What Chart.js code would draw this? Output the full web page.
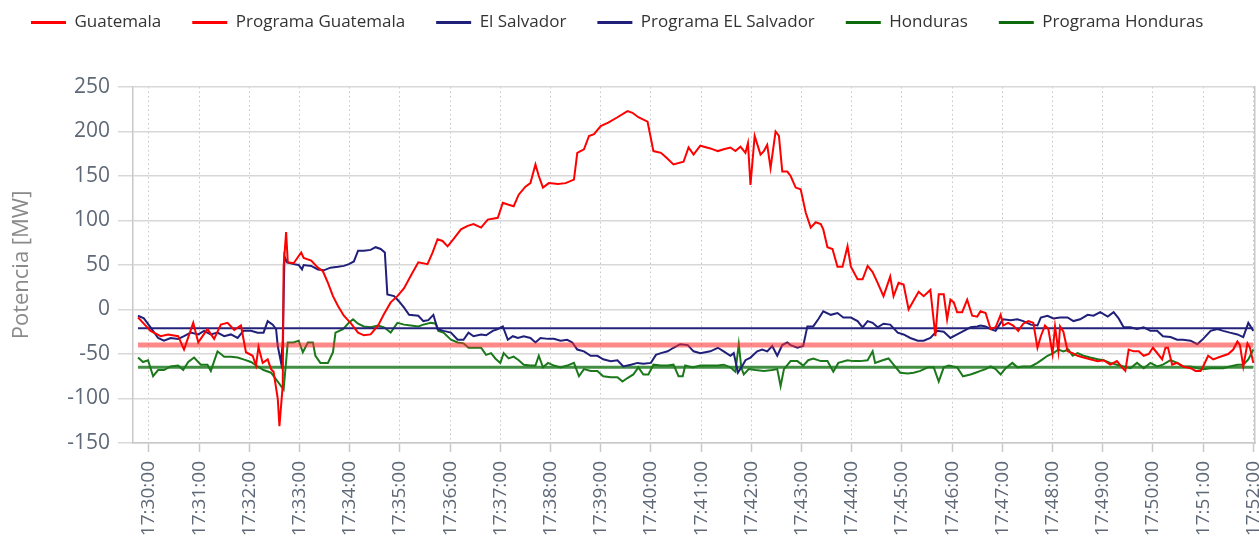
<!DOCTYPE html>
<html>
<head>
<meta charset="utf-8">
<title>Potencia</title>
<script src="https://cdn.jsdelivr.net/npm/chart.js@4.4.0/dist/chart.umd.min.js"></script>
<style>
    html, body { margin: 0; padding: 0; background: #fff; }
    canvas { display: block; }
</style>
</head>
<body>
<canvas id="chart" width="1259" height="544"></canvas>
<script>
// seconds after 17:30:00
const guatSeconds = [-13,-10,2,14,23,35,42,53,59,70,78,86,94,102,110,116,124,128,131,136,142,146,149,154,156,160,161,164,166,173,182,185,194,202,208,214,220,226,233,241,250,257,265,274,281,289,297,305,313,322,333,339,345,351,357,364,373,381,388,397,405,417,423,429,436,442,450,456,462,466,471,478,489,498,508,512,520,526,532,540,549,560,572,578,585,596,603,612,618,627,639,645,651,659,671,680,687,695,701,707,713,716,719,724,731,735,739,743,749,753,757,763,767,773,779,785,791,797,803,806,811,817,823,829,835,839,847,853,859,865,871,878,886,890,896,902,908,914,920,926,934,940,944,950,954,958,962,966,972,978,984,990,994,1000,1006,1012,1018,1021,1027,1033,1039,1045,1051,1057,1062,1066,1071,1075,1080,1083,1087,1089,1093,1098,1104,1110,1117,1125,1134,1141,1149,1157,1163,1167,1171,1177,1183,1189,1195,1200,1206,1211,1215,1218,1223,1229,1236,1245,1251,1257,1260,1266,1272,1278,1284,1290,1296,1301,1304,1308,1313,1316,1320];
const guatValues = [-9,-12,-24,-30,-28,-30,-45,-15,-37,-22,-33,-17,-15,-23,-18,-48,-52,-63,-42,-60,-56,-67,-70,-100,-131,-85,48,87,53,52,64,58,55,47,43,30,15,4,-7,-15,-26,-29,-28,-18,-5,8,15,24,38,53,51,64,79,77,71,79,90,94,96,92,101,103,120,118,116,129,138,142,163,150,137,142,141,142,146,176,180,195,197,206,210,216,223,221,216,211,178,176,171,163,166,182,174,184,181,178,180,182,178,183,176,187,140,195,174,178,185,159,200,195,155,155,150,137,135,109,92,98,96,90,70,68,48,48,71,48,34,34,49,42,30,15,37,15,30,28,0,10,20,15,22,-30,17,17,-11,11,8,-3,-3,11,-7,-8,-2,-4,-22,-20,-6,-18,-15,-18,-24,-16,-13,-15,-43,-30,-18,-22,-50,-19,-47,-19,-25,-47,-49,-52,-54,-56,-58,-57,-62,-58,-65,-69,-45,-47,-47,-52,-50,-43,-50,-56,-43,-43,-62,-60,-64,-66,-69,-69,-64,-52,-56,-54,-52,-50,-45,-36,-40,-64,-38,-43,-60];

const salvSeconds = [-13,-6,2,11,18,26,35,42,50,59,66,74,82,90,98,106,113,122,130,137,142,148,152,154,158,160,162,165,173,179,183,185,194,202,209,217,226,233,239,245,250,257,265,271,277,282,285,293,299,305,311,322,328,334,340,345,352,361,369,376,382,388,397,403,411,417,423,429,435,441,448,456,462,468,477,484,492,500,506,512,520,528,536,543,552,560,567,576,584,591,600,606,612,620,627,635,644,651,659,671,680,687,695,699,704,710,713,719,727,733,739,745,751,757,763,767,775,782,787,794,800,806,815,823,830,839,847,853,859,865,871,878,886,895,902,910,919,926,934,942,950,958,966,974,982,990,994,1000,1006,1012,1018,1021,1030,1038,1045,1054,1062,1066,1074,1081,1089,1098,1105,1113,1122,1129,1137,1146,1153,1159,1165,1173,1181,1189,1197,1205,1212,1221,1229,1236,1245,1253,1260,1269,1277,1284,1292,1301,1308,1314,1320];
const salvValues = [-7,-10,-20,-32,-35,-32,-33,-30,-26,-28,-24,-28,-26,-30,-28,-32,-24,-24,-26,-26,-13,-17,-22,-41,-60,-35,60,53,51,50,45,50,49,45,44,47,48,49,51,54,66,66,67,70,68,64,17,15,9,2,-6,-7,-13,-12,-6,-22,-24,-26,-34,-34,-26,-30,-28,-29,-24,-22,-19,-34,-30,-32,-30,-32,-37,-32,-33,-33,-35,-34,-37,-45,-47,-52,-52,-56,-58,-57,-64,-62,-60,-61,-60,-51,-49,-47,-43,-39,-40,-47,-49,-47,-43,-47,-52,-49,-71,-62,-57,-54,-47,-45,-47,-41,-52,-40,-37,-40,-43,-41,-19,-19,-11,-2,-6,-4,-9,-9,-13,-20,-13,-15,-20,-16,-17,-26,-28,-32,-35,-35,-32,-24,-25,-32,-28,-24,-20,-19,-18,-19,-22,-24,-15,-11,-12,-11,-13,-17,-18,-9,-7,-10,-9,-9,-13,-11,-6,-7,-3,-8,-3,-10,-20,-20,-22,-20,-24,-24,-30,-31,-34,-34,-35,-39,-33,-24,-22,-24,-26,-28,-31,-15,-24];

const hondSeconds = [-13,-7,-1,5,11,18,26,35,41,47,54,62,70,74,82,90,98,106,113,122,130,137,146,154,161,166,173,179,184,190,196,199,205,214,220,223,232,239,244,250,257,265,274,281,289,297,305,313,322,328,337,343,346,352,361,369,376,382,388,397,403,409,414,420,424,430,436,442,448,456,462,466,471,477,484,492,500,508,514,520,528,536,543,552,560,566,572,579,585,591,597,603,612,620,627,633,638,641,650,659,671,680,687,695,701,705,708,711,717,725,735,745,751,755,759,767,775,782,788,794,803,811,818,824,835,842,850,859,865,868,877,884,890,898,907,914,922,931,938,944,950,956,966,973,982,988,994,1000,1006,1012,1018,1024,1032,1038,1045,1054,1062,1068,1074,1081,1087,1093,1099,1104,1110,1117,1125,1134,1141,1149,1157,1165,1173,1181,1189,1197,1205,1212,1221,1229,1236,1245,1253,1260,1269,1277,1284,1292,1301,1308,1314,1320];
const hondValues = [-54,-59,-57,-75,-68,-68,-64,-63,-68,-59,-54,-62,-62,-69,-47,-53,-53,-54,-56,-59,-64,-68,-71,-81,-90,-37,-37,-35,-48,-37,-37,-52,-60,-60,-48,-26,-22,-15,-11,-16,-19,-20,-18,-20,-26,-15,-17,-18,-19,-17,-15,-16,-24,-26,-34,-37,-38,-43,-43,-43,-51,-49,-55,-60,-49,-55,-53,-57,-62,-63,-63,-52,-65,-60,-63,-65,-63,-60,-75,-67,-69,-69,-75,-76,-76,-81,-77,-73,-65,-73,-73,-62,-63,-63,-62,-75,-75,-63,-65,-63,-63,-63,-62,-65,-70,-39,-65,-73,-67,-68,-69,-68,-67,-86,-67,-58,-58,-63,-57,-55,-58,-58,-70,-60,-57,-58,-58,-57,-47,-60,-57,-55,-62,-71,-72,-71,-69,-65,-65,-81,-65,-63,-65,-75,-73,-71,-69,-67,-64,-67,-73,-66,-60,-65,-64,-64,-60,-56,-52,-49,-45,-47,-45,-52,-49,-52,-54,-56,-57,-60,-62,-64,-66,-60,-66,-60,-64,-62,-57,-60,-64,-64,-66,-67,-66,-66,-66,-64,-62,-62,-56,-45];

// scheduled (programa) levels, flat over the whole window
const programSpan = [-13, 1320];
const progGuatemala = -40;
const progSalvador = -21;
const progHonduras = -65;

const tickSeconds = [0,60,120,180,240,300,360,420,480,540,600,660,720,780,840,900,960,1020,1080,1140,1200,1260,1320];
const timeLabels = ['17:30:00','17:31:00','17:32:00','17:33:00','17:34:00','17:35:00','17:36:00','17:37:00','17:38:00','17:39:00','17:40:00','17:41:00','17:42:00','17:43:00','17:44:00','17:45:00','17:46:00','17:47:00','17:48:00','17:49:00','17:50:00','17:51:00','17:52:00'];

const RED = '#ff0000';
const NAVY = '#20207a';
const GREEN = '#1b781b';
const legendColors = [RED, RED, NAVY, NAVY, '#0d6a0d', '#0d6a0d'];

const toPoints = (xs, ys) => xs.map((x, i) => ({ x: x, y: ys[i] }));
const flat = (v) => programSpan.map(x => ({ x: x, y: v }));

function series(label, data, color, width) {
    return {
        label: label,
        data: data,
        borderColor: color,
        backgroundColor: color,
        borderWidth: width,
        pointRadius: 0,
        tension: 0,
        fill: false
    };
}

// make the legend block tall enough that the plot starts where it does in the picture
const legendHeight = {
    id: 'legendHeight',
    beforeInit(chart) {
        const fit = chart.legend.fit;
        chart.legend.fit = function () {
            fit.call(this);
            this.height = 104;
        };
    }
};

Chart.defaults.font.family = "'Open Sans', sans-serif";
const tickColor = '#5e6876';

new Chart(document.getElementById('chart'), {
    type: 'line',
    data: {
        datasets: [
            series('Guatemala', toPoints(guatSeconds, guatValues), RED, 2),
            series('Programa Guatemala', flat(progGuatemala), 'rgba(255,40,40,0.55)', 5),
            series('El Salvador', toPoints(salvSeconds, salvValues), NAVY, 2),
            series('Programa EL Salvador', flat(progSalvador), '#23237c', 2),
            series('Honduras', toPoints(hondSeconds, hondValues), GREEN, 2),
            series('Programa Honduras', flat(progHonduras), 'rgba(20,115,20,0.8)', 3)
        ]
    },
    options: {
        responsive: false,
        animation: false,
        layout: { padding: { top: -17, left: 0, right: 4, bottom: 0 } },
        plugins: {
            tooltip: { enabled: false },
            legend: {
                position: 'top',
                align: 'start',
                labels: {
                    boxWidth: 35,
                    boxHeight: 3,
                    padding: 31,
                    color: '#333',
                    font: { size: 17 },
                    generateLabels(chart) {
                        return chart.data.datasets.map((ds, i) => ({
                            text: ds.label,
                            fillStyle: legendColors[i],
                            strokeStyle: legendColors[i],
                            lineWidth: 0,
                            hidden: false,
                            datasetIndex: i,
                            fontColor: '#333'
                        }));
                    }
                }
            }
        },
        scales: {
            x: {
                type: 'linear',
                min: -19,
                max: 1322,
                afterBuildTicks(scale) {
                    scale.ticks = tickSeconds.map(v => ({ value: v }));
                },
                ticks: {
                    autoSkip: false,
                    minRotation: 90,
                    maxRotation: 90,
                    padding: 9,
                    color: tickColor,
                    font: { size: 19 },
                    callback: (value, index) => timeLabels[index]
                },
                grid: {
                    color: '#c4c4c4',
                    lineWidth: 1,
                    tickLength: 9,
                    tickColor: '#c8c8c8',
                    tickWidth: 1.5,
                    tickBorderDash: []
                },
                border: { display: true, color: '#c8c8c8', width: 1.5, dash: [1.5, 3] },
                afterFit(scale) {
                    scale.height = 101;
                    scale.paddingLeft = 0;
                    scale.paddingRight = 0;
                }
            },
            y: {
                min: -150,
                max: 250,
                ticks: {
                    stepSize: 50,
                    padding: 8,
                    color: tickColor,
                    font: { size: 21 }
                },
                grid: { color: '#d8d8d8', lineWidth: 1.5, tickLength: 15 },
                border: { color: '#c8c8c8', width: 1.5 },
                title: {
                    display: true,
                    text: 'Potencia [MW]',
                    color: '#8a8a8a',
                    font: { size: 22 },
                    padding: { top: 9, bottom: 0 }
                },
                afterFit(scale) { scale.width = 133; }
            },
            yRight: {
                position: 'right',
                min: -150,
                max: 250,
                ticks: { display: false },
                grid: { display: false, drawTicks: false },
                border: { display: true, color: '#c8c8c8', width: 1.5 },
                afterFit(scale) { scale.width = 0; }
            }
        }
    },
    plugins: [legendHeight]
});
</script>
</body>
</html>
